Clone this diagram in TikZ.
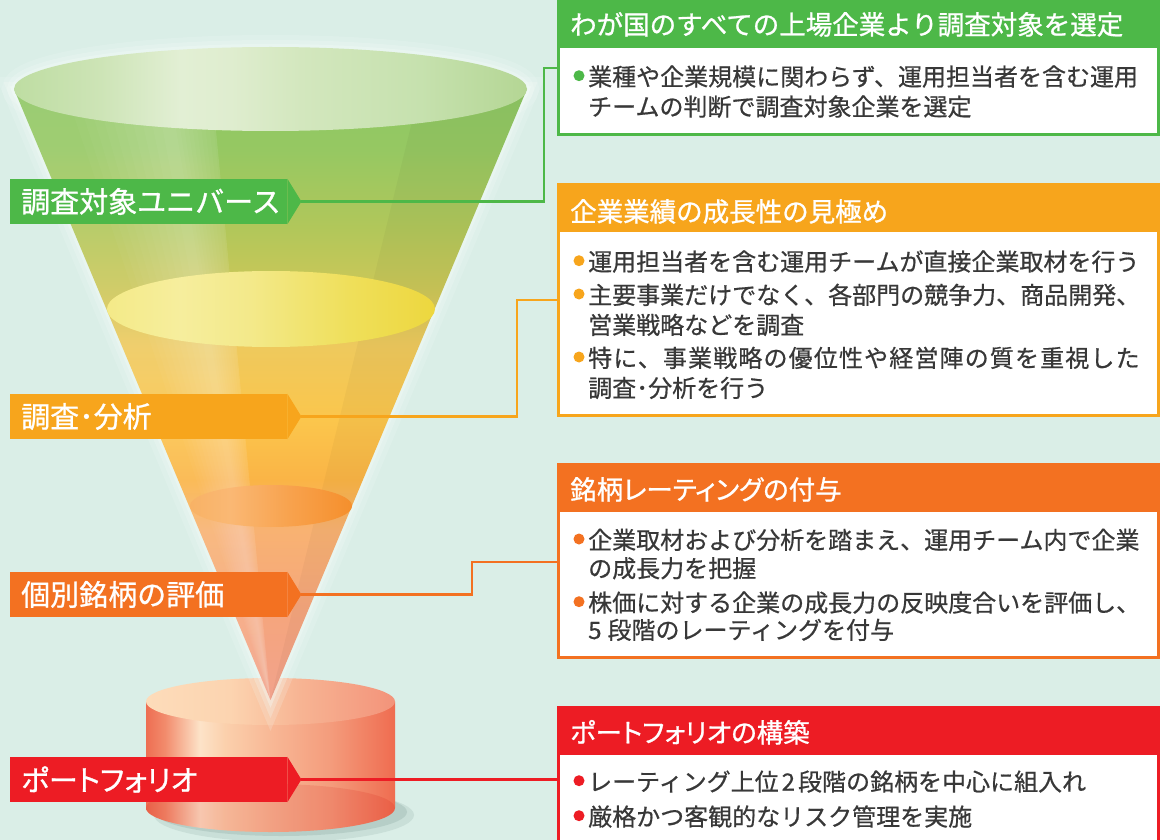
\documentclass[tikz,border=0pt]{standalone}
\usepackage{fontspec}
\setmainfont{Noto Sans CJK JP}[FakeBold=0.6]
\newfontfamily\jpb{Noto Sans CJK JP}[FakeBold=0.9]
\usetikzlibrary{calc}

\definecolor{bg}{HTML}{DAEEE7}
\definecolor{halo}{HTML}{F4FBF8}
\definecolor{cg}{HTML}{4DB848}
\definecolor{co}{HTML}{F7A51C}
\definecolor{cr}{HTML}{F37121}
\definecolor{cd}{HTML}{ED1C24}
\definecolor{txt}{HTML}{383838}
% cone vertical colours
\definecolor{k89}{HTML}{8DC765}
\definecolor{k150}{HTML}{96C862}
\definecolor{k230}{HTML}{B2C75A}
\definecolor{k290}{HTML}{CCC758}
\definecolor{k345}{HTML}{EEC95D}
\definecolor{k420}{HTML}{FBC64C}
\definecolor{k480}{HTML}{FAB446}
\definecolor{k530}{HTML}{F8B272}
\definecolor{k620}{HTML}{F5A57E}
\definecolor{k700}{HTML}{F1A28C}
% top ellipse
\definecolor{t1}{HTML}{BEDDA2}
\definecolor{t2}{HTML}{CDE4B6}
\definecolor{t3}{HTML}{E2EFD4}
\definecolor{t4}{HTML}{DFEDCF}
\definecolor{t5}{HTML}{D3E7BE}
\definecolor{t6}{HTML}{C6E1AE}
\definecolor{t7}{HTML}{B4D694}
% yellow ellipse
\definecolor{y1}{HTML}{F4EA88}
\definecolor{y2}{HTML}{F6EE9D}
\definecolor{y3}{HTML}{F3E98A}
\definecolor{y4}{HTML}{EFDF5A}
\definecolor{y5}{HTML}{EDD73E}
% orange ellipse
\definecolor{o1}{HTML}{F8B265}
\definecolor{o2}{HTML}{FAB874}
\definecolor{o3}{HTML}{F8A24D}
\definecolor{o4}{HTML}{F58F2C}
% cylinder
\definecolor{c1}{HTML}{EE6E52}
\definecolor{c2}{HTML}{F28B6C}
\definecolor{c3}{HTML}{FDE3C8}
\definecolor{c4}{HTML}{FBD0AC}
\definecolor{c5}{HTML}{F8B896}
\definecolor{c6}{HTML}{F49C7C}
\definecolor{c7}{HTML}{EF6C50}
\definecolor{f1}{HTML}{FDDCBA}
\definecolor{f2}{HTML}{FCD4B0}
\definecolor{f3}{HTML}{F7B493}
\definecolor{f4}{HTML}{F3937A}
\definecolor{shad}{HTML}{7E9F98}

\pgfdeclareverticalshading{coneshade}{100bp}{color(0bp)=(k700); color(25bp)=(k700); color(31.55bp)=(k620); color(38.91bp)=(k530); color(43bp)=(k480); color(47.91bp)=(k420); color(54.05bp)=(k345); color(58.55bp)=(k290); color(63.46bp)=(k230); color(70bp)=(k150); color(75bp)=(k89); color(100bp)=(k89)}
\pgfdeclarehorizontalshading{topshade}{100bp}{color(0bp)=(t1); color(25bp)=(t1); color(33.4bp)=(t2); color(41.2bp)=(t3); color(46.1bp)=(t4); color(52.9bp)=(t5); color(64.6bp)=(t6); color(75bp)=(t7); color(100bp)=(t7)}
\pgfdeclarehorizontalshading{yelshade}{100bp}{color(0bp)=(y1); color(25bp)=(y1); color(36.1bp)=(y2); color(46.8bp)=(y3); color(62bp)=(y4); color(75bp)=(y5); color(100bp)=(y5)}
\pgfdeclarehorizontalshading{orashade}{100bp}{color(0bp)=(o1); color(25bp)=(o1); color(37.4bp)=(o2); color(55.9bp)=(o3); color(75bp)=(o4); color(100bp)=(o4)}
\pgfdeclarehorizontalshading{cylshade}{100bp}{color(0bp)=(c1); color(25bp)=(c1); color(28.8bp)=(c2); color(35.8bp)=(c3); color(40.9bp)=(c4); color(49.9bp)=(c5); color(62bp)=(c6); color(75bp)=(c7); color(100bp)=(c7)}
\pgfdeclarehorizontalshading{cyltop}{100bp}{color(0bp)=(f1); color(25bp)=(f1); color(41.9bp)=(f2); color(55.9bp)=(f3); color(75bp)=(f4); color(100bp)=(f4)}

\begin{document}
\begin{tikzpicture}[x=1pt,y=-1pt,
  tagbox/.style={anchor=west, minimum height=45, text width=255, inner xsep=11, inner ysep=0, align=left, text=white, font=\jpb\fontsize{29}{31}\selectfont},
  conn/.style={line width=2.3},
  boxbody/.style={line width=3, fill=white, anchor=north west, minimum width=600, inner sep=0, outer sep=0},
  boxhead/.style={anchor=north west, minimum width=600, inner sep=0, outer sep=0},
  hdr/.style={anchor=base west, inner sep=0, text=white, font=\jpb\fontsize{26.5}{30}\selectfont},
  bodyline/.style={anchor=base west, inner sep=0, text=txt, font=\fontsize{24}{30}\selectfont},
  bulletdot/.style={circle, inner sep=0, minimum size=11},
]
\useasboundingbox (0,0) rectangle (1160,840);
\clip (0,0) rectangle (1160,840);
\fill[bg] (0,0) rectangle (1160,840);

% ---------- cylinder ----------
\fill[shad, opacity=0.18] (284,815) ellipse[x radius=130, y radius=27];
\fill[shad, opacity=0.25] (281,812) ellipse[x radius=126, y radius=24];
\shade[shading=cylshade] (146,701.5) -- (146,808) arc[start angle=180, end angle=0, x radius=124.5, y radius=24] -- (395,701.5) -- cycle;
\fill[red!80!black, opacity=0.12] (270.5,808) ellipse[x radius=124.5, y radius=24];
\shade[shading=cyltop] (270.5,701.5) ellipse[x radius=124.5, y radius=23.5];

% ---------- funnel halo ----------
\draw[halo, opacity=0.18, line width=24, line join=miter, miter limit=20] (14,89) -- (527,89) -- (270.5,700) -- cycle;
\draw[halo, opacity=0.25, line width=14, line join=miter, miter limit=20] (14,89) -- (527,89) -- (270.5,700) -- cycle;
\draw[halo, opacity=0.35, line width=6, line join=miter, miter limit=20] (14,89) -- (527,89) -- (270.5,700) -- cycle;
\draw[halo, opacity=0.18, line width=24] (270.5,89) ellipse[x radius=256.5, y radius=42];
\draw[halo, opacity=0.25, line width=14] (270.5,89) ellipse[x radius=256.5, y radius=42];
\draw[halo, opacity=0.35, line width=6] (270.5,89) ellipse[x radius=256.5, y radius=42];

% ---------- funnel ----------
\shade[shading=coneshade] (14,89) -- (527,89) -- (270.5,700) -- cycle;
\fill[white, opacity=0.10] (14,89) -- (212,89) -- (270.5,700) -- cycle;
\foreach \w in {100,90,...,10}{
  \fill[white, opacity=0.028] ({165-\w},89) -- ({165+\w*0.45},89) -- (270.5,700) -- cycle;
}
\fill[black, opacity=0.03] (420,89) -- (527,89) -- (270.5,700) -- cycle;
\shade[shading=orashade] (271,506) ellipse[x radius=81, y radius=21];
\shade[shading=yelshade] (271,309) ellipse[x radius=164, y radius=38];
\shade[shading=topshade] (270.5,89) ellipse[x radius=256.5, y radius=42];

% ---------- left tags ----------
\node[tagbox, fill=cg] (g1) at (10,201.5) {調査対象ユニバース};
\node[tagbox, fill=co] (g2) at (10,416.5) {調査･分析};
\node[tagbox, fill=cr] (g3) at (10,594.5) {個別銘柄の評価};
\node[tagbox, fill=cd] (g4) at (10,779.5) {\addfontfeature{RawFeature=+palt}ポートフォリオ};
\foreach \n/\c in {g1/cg, g2/co, g3/cr, g4/cd}{
  \fill[\c] (\n.north east) -- ($(\n.east)+(14,0)$) -- (\n.south east) -- cycle;
  \coordinate (\n x) at ($(\n.east)+(14,0)$);
}

% ---------- right boxes ----------
\node[boxbody, draw=cg, minimum height=133.5] (b1) at (558,1.5) {};
\node[boxhead, fill=cg, minimum height=46.5] (h1) at (558,1.5) {};
\node[boxbody, draw=co, minimum height=230] (b2) at (558,185) {};
\node[boxhead, fill=co, minimum height=47] (h2) at (558,185) {};
\node[boxbody, draw=cr, minimum height=193] (b3) at (558,464) {};
\node[boxhead, fill=cr, minimum height=48] (h3) at (558,464) {};
\node[boxbody, draw=cd, minimum height=150] (b4) at (558,707) {};
\node[boxhead, fill=cd, minimum height=48] (h4) at (558,707) {};

% ---------- connectors ----------
\coordinate (k1) at (544,68);
\coordinate (k2) at (517,300);
\coordinate (k3) at (472,562);
\draw[conn, cg] (g1x) -| (k1) -- (k1 -| b1.west);
\draw[conn, co] (g2x) -| (k2) -- (k2 -| b2.west);
\draw[conn, cr] (g3x) -| (k3) -- (k3 -| b3.west);
\draw[conn, cd] (g4x) -- (g4x -| b4.west);

% ---------- headers ----------
\node[hdr] (ht1) at (570,34.5) {わが国のすべての上場企業より調査対象を選定};
\node[hdr] (ht2) at (570,221.5) {企業業績の成長性の見極め};
\node[hdr] (ht3) at (570,499.5) {\addfontfeature{RawFeature=+palt}銘柄レーティングの付与};
\node[hdr] (ht4) at (570,742.5) {\addfontfeature{RawFeature=+palt}ポートフォリオの構築};

% ---------- body text ----------
\node[bulletdot, fill=cg] (d11) at (579,75.7) {};
\node[bodyline] (l11) at (588,85.7) {業種や企業規模に関わらず、運用担当者を含む運用};
\node[bodyline] (l12) at (588,115.7) {チームの判断で調査対象企業を選定};

\node[bulletdot, fill=co] (d21) at (579,260.7) {};
\node[bodyline] (l21) at (588,270.7) {運用担当者を含む運用チームが直接企業取材を行う};
\node[bulletdot, fill=co] (d22) at (579,294) {};
\node[bodyline] (l22) at (588,304) {主要事業だけでなく、各部門の競争力、商品開発、};
\node[bodyline] (l23) at (588,334) {営業戦略などを調査};
\node[bulletdot, fill=co] (d23) at (579,357) {};
\node[bodyline] (l24) at (588,367) {{\addfontfeature{LetterSpace=4.8}特に、事業戦略の優位性や経営陣の質を重視した}};
\node[bodyline] (l25) at (588,397) {調査･分析を行う};

\node[bulletdot, fill=cr] (d31) at (579,539) {};
\node[bodyline] (l31) at (588,549) {企業取材および分析を踏まえ、運用チーム内で企業};
\node[bodyline] (l32) at (588,577.3) {の成長力を把握};
\node[bulletdot, fill=cr] (d32) at (579,601.7) {};
\node[bodyline] (l33) at (588,611.7) {株価に対する企業の成長力の反映度合いを評価し、};
\node[bodyline] (l34) at (588,639) {5\hspace{6pt}段階のレーティングを付与};

\node[bulletdot, fill=cd] (d41) at (579,780.7) {};
\node[bodyline] (l41) at (588,790.7) {レーティング上位\hspace{3pt}2\hspace{3pt}段階の銘柄を中心に組入れ};
\node[bulletdot, fill=cd] (d42) at (579,815.7) {};
\node[bodyline] (l42) at (588,825.7) {厳格かつ客観的なリスク管理を実施};
\end{tikzpicture}
\end{document}
